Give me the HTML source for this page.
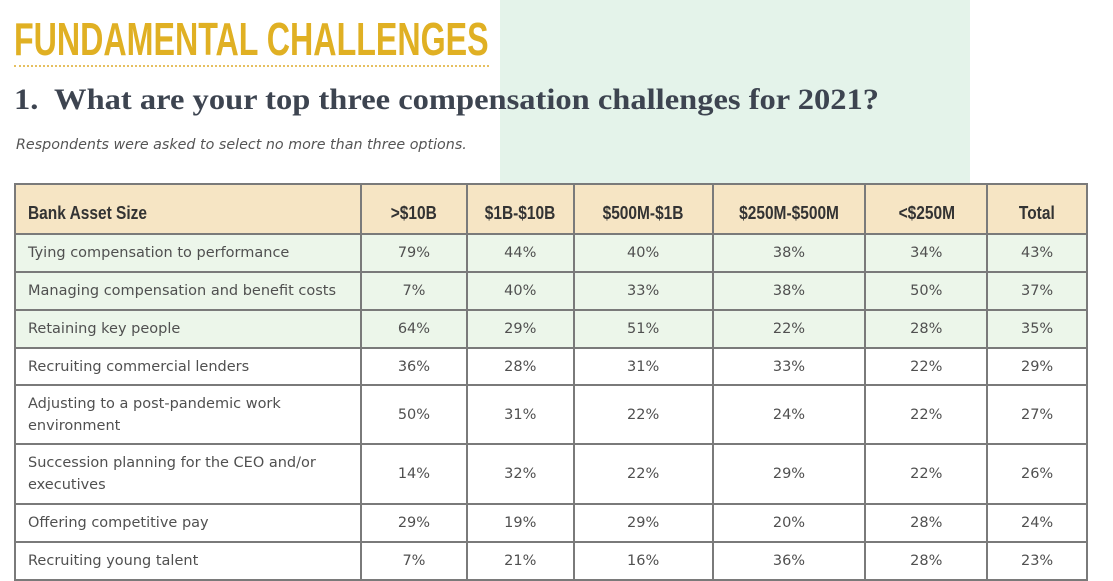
<!DOCTYPE html>
<html><head><style>
*{margin:0;padding:0;box-sizing:border-box}
body{width:1113px;height:580px;background:#fff;position:relative;overflow:hidden;font-family:"DejaVu Sans","Liberation Sans",sans-serif;color:#4a4a4a}
.panel{position:absolute;left:500px;top:0;width:470px;height:183px;background:#e4f3ea}
.title{position:absolute;left:14px;top:12px;font-family:"Liberation Sans",sans-serif;font-weight:bold;font-size:46px;color:#e0b023;white-space:nowrap;transform-origin:0 0;transform:scaleX(0.70)}
.dots{position:absolute;left:14px;top:65px;width:475px;border-top:2px dotted #e6c060}
.q{position:absolute;left:14px;top:83px;font-family:"Liberation Serif","DejaVu Serif",serif;font-weight:bold;font-size:30px;color:#3d4450;white-space:nowrap;transform-origin:0 0;transform:scaleX(1.084)}
.sub{position:absolute;left:16px;top:137px;font-style:italic;font-size:14.5px;color:#555;white-space:nowrap;font-family:"DejaVu Sans",sans-serif;transform-origin:0 0;transform:scaleX(0.985)}
table{position:absolute;left:14px;top:183px;border-collapse:collapse;width:1074px}
td{border:2px solid #7a7a7a;font-size:14.5px;text-align:center;color:#505050;padding:0}
td:first-child{text-align:left;padding-left:12px;line-height:22px}
tr.h td{background:#f6e5c4;font-weight:bold;color:#333;font-family:"Liberation Sans",sans-serif;font-size:18px;height:50px;padding-top:8px}
tr.h td span{display:inline-block;transform:scaleX(0.86)}
tr.h td:first-child span{transform-origin:0 50%}
tr.g td{background:#ecf6ea}
</style></head><body>
<div class="panel"></div>
<div class="title">FUNDAMENTAL CHALLENGES</div>
<div class="dots"></div>
<div class="q">1.&nbsp; What are your top three compensation challenges for 2021?</div>
<div class="sub">Respondents were asked to select no more than three options.</div>
<table>
<colgroup><col style="width:347px"><col style="width:106px"><col style="width:107px"><col style="width:139px"><col style="width:153px"><col style="width:122px"><col style="width:100px"></colgroup>
<tr class="h"><td><span>Bank Asset Size</span></td><td><span>&gt;$10B</span></td><td><span>$1B-$10B</span></td><td><span>$500M-$1B</span></td><td><span>$250M-$500M</span></td><td><span>&lt;$250M</span></td><td><span>Total</span></td></tr>
<tr class="g" style="height:38px"><td>Tying compensation to performance</td><td>79%</td><td>44%</td><td>40%</td><td>38%</td><td>34%</td><td>43%</td></tr>
<tr class="g" style="height:38px"><td>Managing compensation and benefit costs</td><td>7%</td><td>40%</td><td>33%</td><td>38%</td><td>50%</td><td>37%</td></tr>
<tr class="g" style="height:38px"><td>Retaining key people</td><td>64%</td><td>29%</td><td>51%</td><td>22%</td><td>28%</td><td>35%</td></tr>
<tr style="height:37px"><td>Recruiting commercial lenders</td><td>36%</td><td>28%</td><td>31%</td><td>33%</td><td>22%</td><td>29%</td></tr>
<tr style="height:59px"><td>Adjusting to a post-pandemic work<br>environment</td><td>50%</td><td>31%</td><td>22%</td><td>24%</td><td>22%</td><td>27%</td></tr>
<tr style="height:60px"><td>Succession planning for the CEO and/or<br>executives</td><td>14%</td><td>32%</td><td>22%</td><td>29%</td><td>22%</td><td>26%</td></tr>
<tr style="height:38px"><td>Offering competitive pay</td><td>29%</td><td>19%</td><td>29%</td><td>20%</td><td>28%</td><td>24%</td></tr>
<tr style="height:38px"><td>Recruiting young talent</td><td>7%</td><td>21%</td><td>16%</td><td>36%</td><td>28%</td><td>23%</td></tr>
</table>
</body></html>
